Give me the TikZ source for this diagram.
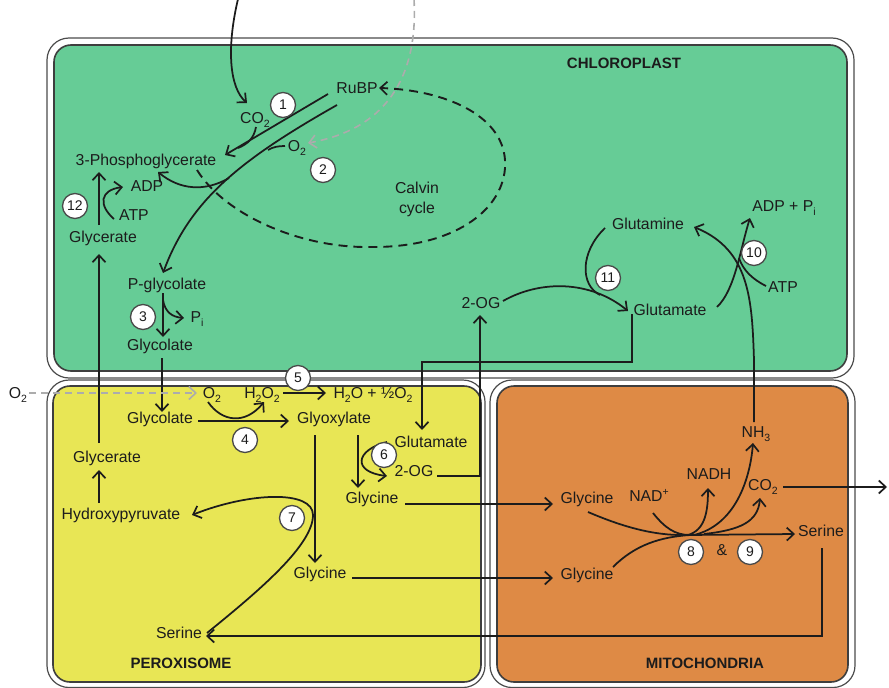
\documentclass[tikz,border=0pt]{standalone}
\usepackage{fontspec}
\setmainfont{Liberation Sans}
\usetikzlibrary{arrows.meta}
\definecolor{chl}{RGB}{102,204,150}
\definecolor{per}{RGB}{232,230,85}
\definecolor{mit}{RGB}{222,138,69}
\definecolor{ink}{RGB}{28,28,28}
\newcommand\sbs[1]{\raisebox{-0.45ex}{\fontsize{10.5}{10.5}\selectfont #1}}
\newcommand\sps[1]{\raisebox{0.75ex}{\fontsize{10.5}{10.5}\selectfont #1}}
\begin{document}
\begin{tikzpicture}[x=1pt,y=-1pt,
  lbl/.style={font=\fontsize{15.8}{18}\selectfont, text=ink, inner sep=0pt, anchor=base},
  ttl/.style={font=\bfseries\fontsize{15}{18}\selectfont, text=ink, inner sep=0pt, anchor=base},
  num/.style={circle, draw=ink!80, fill=white, line width=1.3pt, minimum size=25pt, inner sep=0pt, font=\fontsize{14}{14}\selectfont, text=ink},
  conn/.style={draw=ink, line width=1.75pt},
  arr/.style={conn, -{Straight Barb[length=7pt,width=13pt,line width=1.7pt]}},
  garr/.style={draw=gray!65, line width=1.6pt, dash pattern=on 7pt off 5pt, -{Straight Barb[length=7pt,width=13pt,line width=1.6pt]}},
  darr/.style={draw=ink, line width=1.9pt, dash pattern=on 9pt off 6pt, -{Straight Barb[length=7pt,width=13pt,line width=1.7pt]}},
  outerwall/.style={draw=gray!60!black, line width=1.2pt, fill=white, rounded corners=22pt},
  innerwall/.style={draw=ink!85, line width=1.6pt, rounded corners=17pt}
]
\useasboundingbox (0,0) rectangle (889,688);
% compartments
\draw[outerwall] (47,38) rectangle (854,378);
\draw[innerwall, fill=chl] (54,45) rectangle (847,371);
\draw[outerwall] (47,380) rectangle (485,687.5);
\draw[innerwall, fill=per] (53,386) rectangle (481,682);
\draw[outerwall] (490,380) rectangle (855,687.5);
\draw[innerwall, fill=mit] (497,386) rectangle (848,682);

% ---- coordinates for connector ends
\coordinate (topin) at (238,-1);
\coordinate (co2in) at (247,103);
\coordinate (gtop) at (414,-1);
\coordinate (o2tip) at (308,143);
\coordinate (l1s) at (328,94);
\coordinate (l1e) at (225,155);
\coordinate (co2j) at (238,148);
\coordinate (l2s) at (337,105);
\coordinate (l2e) at (163,273);
\coordinate (br3pg) at (229,178);
\coordinate (pgatip) at (158,172);
\coordinate (calvs) at (197,170);
\coordinate (calve) at (379,88);

% ---- chloroplast connectors
\draw[arr] (topin) .. controls (226,50) and (230,88) .. (co2in);
\draw[garr] (gtop) .. controls (418,70) and (392,128) .. (o2tip);
\draw[arr] (l1s) -- (l1e);
\draw[conn] (256,127) .. controls (254,138) and (248,144) .. (co2j);
\draw[arr] (l2s) .. controls (240,160) and (190,200) .. (l2e);
\draw[conn] (285,146) .. controls (278,146) and (273,147) .. (268,150);
\draw[arr] (br3pg) .. controls (205,192) and (180,190) .. (pgatip);
\draw[darr] (calvs) .. controls (225,215) and (300,248) .. (370,247)
   .. controls (460,248) and (508,205) .. (505,160)
   .. controls (502,115) and (445,90) .. (calve);
\draw[arr] (99,225) -- (99,172);
\draw[arr] (114,219) .. controls (98,205) and (100,190) .. (123,187);
\draw[arr] (163,293) -- (163,337);
\draw[arr] (163,300) .. controls (165,312) and (172,317) .. (184,318);
\draw[arr] (162,358) -- (162,412);
\draw[arr] (99,443) -- (99,254);
\draw[arr] (437,476) -- (480,476) -- (480,315);
\draw[arr] (503,301) .. controls (540,280) and (590,280) .. (628,311);
\draw[conn] (605,228) .. controls (580,252) and (580,285) .. (600,295);
\draw[arr] (632,314) -- (632,362) -- (422,362) -- (422,430);
\draw[arr] (754,422) -- (754,360) .. controls (752,300) and (750,250) .. (694,227);
\draw[arr] (717,307) .. controls (735,290) and (740,250) .. (750,218);
\draw[conn] (766,286) .. controls (752,279) and (743,270) .. (739,258);

% ---- peroxisome connectors
\draw[garr] (29,393) -- (197,393);
\draw[arr] (283,393) -- (326,393);
\draw[arr] (198,421) -- (289,421);
\draw[arr] (208,402) .. controls (222,422) and (245,425) .. (264,402);
\draw[arr] (315,435) -- (315,563);
\draw[arr] (358,435) -- (358,488);
\draw[arr] (387,442) .. controls (355,450) and (352,472) .. (387,476);
\draw[arr] (405,504) -- (553,504);
\draw[arr] (352,578) -- (553,578);
\draw[arr] (207,633) .. controls (260,590) and (313,545) .. (313,515)
   .. controls (313,490) and (250,492) .. (192,515);
\draw[arr] (99,503) -- (99,470);
\draw[arr] (822,548) -- (822,636) -- (206,636);

% ---- mitochondria connectors
\draw[conn] (588,512) .. controls (630,530) and (660,536) .. (690,535);
\draw[conn] (613,567) .. controls (635,545) and (660,537) .. (690,535);
\draw[conn] (653,513) .. controls (665,528) and (675,535) .. (690,535);
\draw[arr] (688,535) -- (795,534);
\draw[arr] (688,535) .. controls (705,530) and (708,512) .. (708,488);
\draw[arr] (694,535) .. controls (735,525) and (750,480) .. (753,443);
\draw[arr] (704,534) .. controls (740,530) and (758,522) .. (760,498);
\draw[arr] (783,487) -- (887,487);

% ---- numbered circles
\node[num] (n1) at (283,105) {1};
\node[num] (n2) at (323,170) {2};
\node[num] (n3) at (143,317) {3};
\node[num] (n4) at (245,440) {4};
\node[num] (n5) at (298,378) {5};
\node[num] (n6) at (384,455) {6};
\node[num] (n7) at (292,518) {7};
\node[num] (n8) at (691,552) {8};
\node[num] (n9) at (750,552) {9};
\node[num] (n10) at (754,253) {10};
\node[num] (n11) at (608,278) {11};
\node[num] (n12) at (75,206) {12};

% ---- titles
\node[ttl] (tchl) at (624,68.5) {CHLOROPLAST};
\node[ttl] (tper) at (181,668.5) {PEROXISOME};
\node[ttl] (tmit) at (705,668.5) {MITOCHONDRIA};

% ---- chloroplast labels
\node[lbl] (rubp) at (357,93.5) {RuBP};
\node[lbl] (co2a) at (255,123.5) {CO\sbs{2}};
\node[lbl] (o2a) at (297,151.5) {O\sbs{2}};
\node[lbl] (pga) at (146,165.5) {3-Phosphoglycerate};
\node[lbl] (adp) at (147,191.5) {ADP};
\node[lbl] (atp) at (134,220.5) {ATP};
\node[lbl] (glyca) at (103,242.5) {Glycerate};
\node[lbl] (calvin) at (417,193.5) {Calvin};
\node[lbl] (cycle) at (417,213) {cycle};
\node[lbl] (pglyc) at (167,289.5) {P-glycolate};
\node[lbl] (pia) at (197,322.5) {P\sbs{i}};
\node[lbl] (glcla) at (160,350.5) {Glycolate};
\node[lbl] (oga) at (481,308.5) {2-OG};
\node[lbl] (gln) at (648,229.5) {Glutamine};
\node[lbl] (glua) at (670,315.5) {Glutamate};
\node[lbl] (adppi) at (784,211.5) {ADP + P\sbs{i}};
\node[lbl] (atpb) at (783,292.5) {ATP};

% ---- peroxisome labels
\node[lbl] (o2out) at (18,398.5) {O\sbs{2}};
\node[lbl] (o2b) at (212,398.5) {O\sbs{2}};
\node[lbl] (h2o2) at (262,398.5) {H\sbs{2}O\sbs{2}};
\node[lbl] (h2o) at (373,398.5) {H\sbs{2}O + ½O\sbs{2}};
\node[lbl] (glclb) at (160,423.5) {Glycolate};
\node[lbl] (glyox) at (334,423.5) {Glyoxylate};
\node[lbl] (glub) at (431,447.5) {Glutamate};
\node[lbl] (ogb) at (414,476.5) {2-OG};
\node[lbl] (glyb1) at (372,503.5) {Glycine};
\node[lbl] (glycb) at (107,462.5) {Glycerate};
\node[lbl] (hpyr) at (121,519.5) {Hydroxypyruvate};
\node[lbl] (glyb2) at (320,578.5) {Glycine};
\node[lbl] (serb) at (179,638.5) {Serine};

% ---- mitochondria labels
\node[lbl] (glyc1) at (587,503.5) {Glycine};
\node[lbl] (nad) at (649,501.5) {NAD\sps{+}};
\node[lbl] (nadh) at (709,479.5) {NADH};
\node[lbl] (nh3) at (756,437.5) {NH\sbs{3}};
\node[lbl] (co2b) at (763,490.5) {CO\sbs{2}};
\node[lbl] (serc) at (821,536.5) {Serine};
\node[lbl] (glyc2) at (587,579.5) {Glycine};
\node[lbl] (amp) at (722,555.5) {\&};
\end{tikzpicture}
\end{document}
